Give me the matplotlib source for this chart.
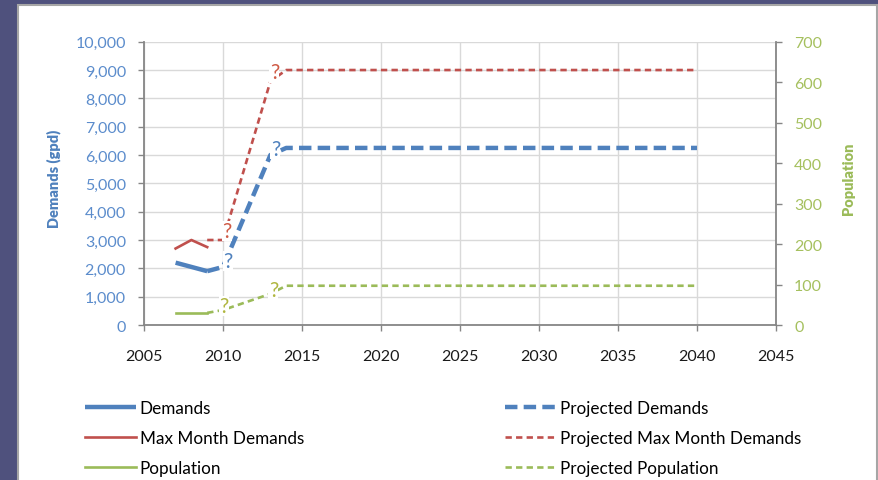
import matplotlib
matplotlib.use("Agg")
import matplotlib.pyplot as plt
from matplotlib.patches import Rectangle

plt.rcParams['font.family'] = ['Lato', 'DejaVu Sans']

# ---- data ----
years_actual = [2007, 2008, 2009]
demands = [2200, 2050, 1900]
max_month = [2700, 3000, 2750]
population = [30, 30, 30]

years_proj = [2009, 2010, 2013, 2014, 2020, 2025, 2030, 2035, 2040]
proj_demands = [1900, 2050, 6000, 6250, 6250, 6250, 6250, 6250, 6250]
proj_max_month = [3000, 3000, 8600, 9000, 9000, 9000, 9000, 9000, 9000]
proj_population = [30, 37, 77, 97, 97, 97, 97, 97, 97]

label_years = [2010, 2013]  # points carrying a "?" label

x_ticks = [2005, 2010, 2015, 2020, 2025, 2030, 2035, 2040, 2045]
left_ticks = list(range(0, 10001, 1000))
right_ticks = list(range(0, 701, 100))

BLUE = '#4f81bd'
RED = '#c0504d'
GREEN = '#9bbb59'

W, H = 879, 481
fig = plt.figure(figsize=(W / 100, H / 100), dpi=100)
fig.patch.set_facecolor('#4f517d')

panel = Rectangle((18 / W, -0.02), (877 - 18) / W, (1 - 6 / H) + 0.02, transform=fig.transFigure,
                  facecolor='white', edgecolor='#a6a6a6', linewidth=1.5, zorder=-10)
fig.patches.append(panel)

ax = fig.add_axes([144 / W, 1 - 326 / H, (776 - 144) / W, (326 - 42.7) / H])
ax.set_facecolor('none')
ax2 = ax.twinx()

l1, = ax.plot(years_actual, demands, color=BLUE, lw=3.2, label='Demands', solid_capstyle='butt')
l2, = ax.plot(years_proj, proj_demands, color=BLUE, lw=3.2, label='Projected Demands',
              dashes=(2.8, 1.4), dash_capstyle='butt')
l3, = ax.plot(years_actual, max_month, color=RED, lw=1.9, label='Max Month Demands')
l4, = ax.plot(years_proj, proj_max_month, color=RED, lw=1.9, label='Projected Max Month Demands',
              dashes=(2.4, 1.6))
l5, = ax2.plot(years_actual, population, color=GREEN, lw=1.9, label='Population')
l6, = ax2.plot(years_proj, proj_population, color=GREEN, lw=1.9, label='Projected Population',
               dashes=(2.4, 1.6))

# "?" data labels (drawn on the top axes so they mask the lines)
qkw = dict(textcoords='offset pixels', ha='center', va='center', fontsize=15, zorder=5,
           bbox=dict(facecolor='white', edgecolor='none', pad=0.3))
for yr in label_years:
    i = years_proj.index(yr)
    ax2.annotate('?', (yr, proj_max_month[i]), xycoords=ax.transData, xytext=(4, 9),
                 color='#cf5a45', **qkw)
    ax2.annotate('?', (yr, proj_demands[i]), xycoords=ax.transData, xytext=(5, 6),
                 color=BLUE, **qkw)
    ax2.annotate('?', (yr, proj_population[i]), xycoords=ax2.transData,
                 xytext=(1 if yr == 2010 else 3, 4), color='#b0b640', **qkw)

ax.set_xlim(2005, 2045)
ax.set_ylim(0, 10000)
ax2.set_ylim(0, 700)
ax.set_xticks(x_ticks)
ax.set_yticks(left_ticks)
ax.set_yticklabels([f'{v:,}' for v in left_ticks])
ax2.set_yticks(right_ticks)

ax.grid(True, color='#d9d9d9', lw=1)
ax.set_axisbelow(True)

for a in (ax, ax2):
    for s in a.spines.values():
        s.set_visible(False)
ax.spines['left'].set_visible(True)
ax.spines['bottom'].set_visible(True)
ax2.spines['right'].set_visible(True)
for s in (ax.spines['left'], ax.spines['bottom'], ax2.spines['right']):
    s.set_color('#868686')
    s.set_linewidth(1.3)

ax.tick_params(axis='x', direction='out', length=4, width=1, color='#868686', pad=13,
               labelsize=11.5, labelcolor='#1a1a1a')
ax.tick_params(axis='y', direction='out', length=4, width=1, color='#868686', pad=9,
               labelsize=11.5, labelcolor='#5b8ccc')
ax2.tick_params(axis='y', direction='out', length=4, width=1, color='#868686', pad=9,
                labelsize=11.5, labelcolor='#a5c05e')

ax.set_ylabel('Demands (gpd)', color=BLUE, fontweight='heavy', fontsize=10.5)
ax.yaxis.set_label_coords((61 - 144) / 632, 0.52)
ax2.set_ylabel('Population', color=GREEN, fontweight='heavy', fontsize=10.5, rotation=90)
ax2.yaxis.set_label_coords((842 - 144) / 632, 0.52)

leg_kw = dict(frameon=False, fontsize=12.3, handlelength=3.0, handletextpad=0.2,
              labelspacing=0.82, borderpad=0, borderaxespad=0, loc='upper left')
fig.legend([l1, l3, l5], ['Demands', 'Max Month Demands', 'Population'],
           bbox_to_anchor=(85 / W, 1 - 401 / H), **leg_kw)
fig.legend([l2, l4, l6], ['Projected Demands', 'Projected Max Month Demands', 'Projected Population'],
           bbox_to_anchor=(505 / W, 1 - 401 / H), **leg_kw)

fig.savefig('out.png', dpi=100, facecolor=fig.get_facecolor())
